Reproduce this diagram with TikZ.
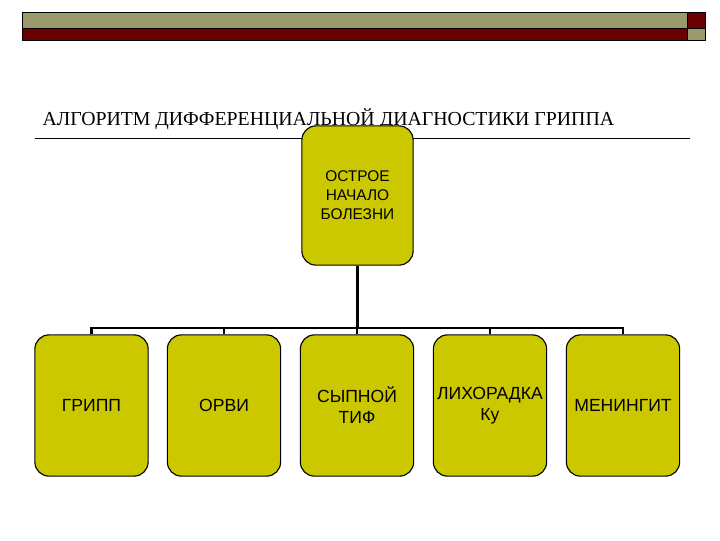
\documentclass[tikz,border=0pt]{standalone}
\usepackage{fontspec}
\setmainfont{Liberation Serif}
\setsansfont{Liberation Sans}
\definecolor{bar-olive}{HTML}{9C9A6A}
\definecolor{bar-red}{HTML}{6A0000}
\definecolor{box-fill}{HTML}{CCC800}
\usetikzlibrary{positioning}

\begin{document}
\begin{tikzpicture}[
    x=0.025cm, y=-0.025cm,
    line width=0.8pt,
    stage/.style={draw=black, fill=box-fill, rounded corners=10pt, align=center, font=\sffamily, inner sep=0pt},
    topbox/.style={stage, minimum width=2.78cm, minimum height=3.48cm, font=\sffamily\fontsize{11}{13.5}\selectfont},
    leafbox/.style={stage, minimum width=2.83cm, minimum height=3.53cm, font=\sffamily\fontsize{12.5}{15}\selectfont},
    link/.style={draw=black, line width=1.6pt}
]
\useasboundingbox (0,0) rectangle (720,540);

% header band
\fill[bar-olive] (22,12) rectangle (687,28);
\fill[bar-red] (22,28) rectangle (687,40);
\fill[bar-red] (687,12) rectangle (705,28);
\fill[bar-olive] (687,28) rectangle (705,40);
\draw[line width=0.6pt] (22,12) rectangle (705,40);
\draw[line width=0.6pt] (22,28) -- (705,28);
\draw[line width=0.6pt] (687,12) -- (687,40);

% title and rule
\node[anchor=base west, font=\fontsize{14.1}{17}\selectfont, inner sep=0pt] (title) at (42,125) {АЛГОРИТМ ДИФФЕРЕНЦИАЛЬНОЙ ДИАГНОСТИКИ ГРИППА};
\draw[line width=0.6pt] (35,138) -- (690,138);

% tree
\node[topbox] (onset) at (357.5,195.5) {ОСТРОЕ\\НАЧАЛО\\БОЛЕЗНИ};
\coordinate (bus) at (357.5,328);

\node[leafbox] (flu) at (91.5,405.5) {ГРИПП};
\node[leafbox] (arvi) at (224,405.5) {ОРВИ};
\node[leafbox] (typhus) at (357,405.5) {СЫПНОЙ\\ТИФ};
\node[leafbox] (qfever) at (490,405.5) {ЛИХОРАДКА\\Ку};
\node[leafbox] (mening) at (623,405.5) {МЕНИНГИТ};

\draw[link] (onset.south) -- (bus);
\foreach \leaf in {flu,arvi,typhus,qfever,mening} {
    \draw[link] (\leaf.north) |- (bus);
}
\end{tikzpicture}
\end{document}
